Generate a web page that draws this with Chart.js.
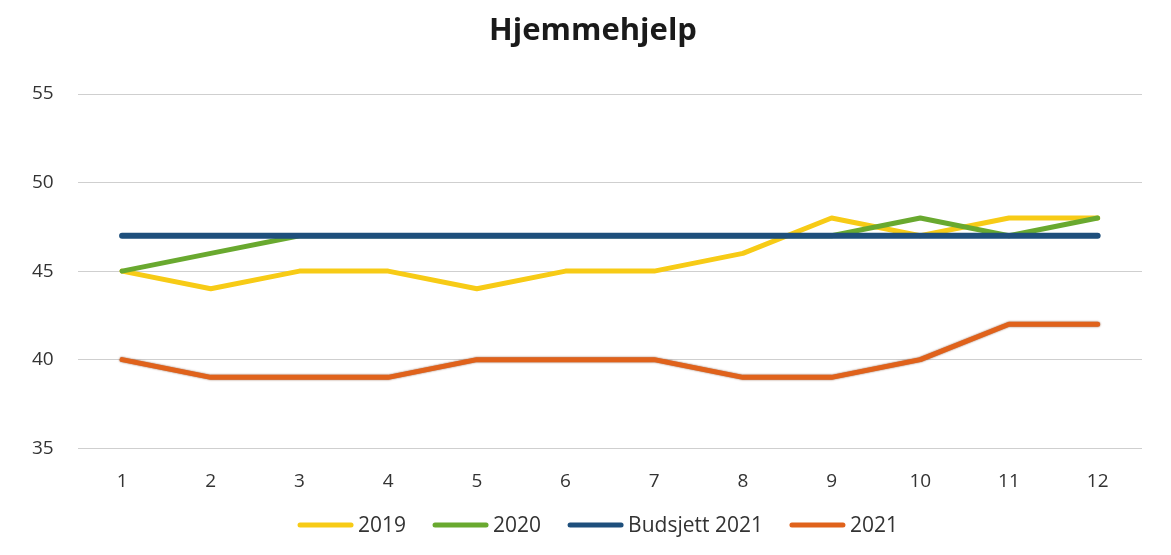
<!DOCTYPE html>
<html>
<head>
<meta charset="utf-8">
<script src="https://cdn.jsdelivr.net/npm/chart.js@4/dist/chart.umd.min.js"></script>
<style>
  html, body { margin: 0; padding: 0; background: #ffffff; }
  #wrap { width: 1171px; height: 555px; }
</style>
</head>
<body>
<div id="wrap"><canvas id="hjelp-chart"></canvas></div>
<script>
// Data lest av fra figuren
const chartTitle = "Hjemmehjelp";
const months = ["1", "2", "3", "4", "5", "6", "7", "8", "9", "10", "11", "12"];
const values2019 = [45, 44, 45, 45, 44, 45, 45, 46, 48, 47, 48, 48];
const values2020 = [45, 46, 47, 47, 47, 47, 47, 47, 47, 48, 47, 48];
const budget2021 = [47, 47, 47, 47, 47, 47, 47, 47, 47, 47, 47, 47];
const values2021 = [40, 39, 39, 39, 40, 40, 40, 39, 39, 40, 42, 42];
const yTicks = [35, 40, 45, 50, 55];

const fontFam = "'Open Sans', 'Liberation Sans', sans-serif";
const ctx = document.getElementById("hjelp-chart").getContext("2d");

function serie(label, data, color, width, order) {
    return {
        label: label,
        data: data,
        borderColor: color,
        backgroundColor: color,
        borderWidth: width,
        pointRadius: 0,
        pointHoverRadius: 0,
        tension: 0,
        borderCapStyle: "round",
        borderJoinStyle: "round",
        fill: false,
        order: order,
    };
}

// tittel og forklaring tegnes selv, for å plassere dem som i originalen
const titleAndLegend = {
    id: "titleAndLegend",
    beforeDatasetDraw(chart, args) {
        if (args.index === 3) {
            chart.ctx.save();
            chart.ctx.shadowColor = "rgba(110, 40, 0, 0.75)";
            chart.ctx.shadowBlur = 2;
        }
    },
    afterDatasetDraw(chart, args) {
        if (args.index === 3) chart.ctx.restore();
    },
    afterDraw(chart) {
        const c = chart.ctx;
        c.save();
        c.fillStyle = "#1a1a1a";
        c.font = "bold 31px " + fontFam;
        c.textAlign = "center";
        c.textBaseline = "middle";
        c.fillText(chartTitle, 593, 31);

        c.font = "21px " + fontFam;
        c.textAlign = "left";
        const lineLen = 55, gap = 5, spacing = 27, y = 525;
        const sets = chart.data.datasets;
        const widths = sets.map((d) => lineLen + gap + c.measureText(d.label).width);
        const total = widths.reduce((a, b) => a + b, 0) + spacing * (sets.length - 1);
        let x = 598 - total / 2;
        sets.forEach((d, i) => {
            c.strokeStyle = d.borderColor;
            c.lineWidth = 5;
            c.lineCap = "round";
            c.beginPath();
            c.moveTo(x + 2, y);
            c.lineTo(x + lineLen - 2, y);
            c.stroke();
            c.fillStyle = "#333333";
            c.fillText(d.label, x + lineLen + gap, y + 1);
            x += widths[i] + spacing;
        });
        c.restore();
    },
};

const chart = new Chart(ctx, {
    type: "line",
    data: {
        labels: months,
        datasets: [
            serie("2019", values2019, "#F7CB16", 5, 4),
            serie("2020", values2020, "#69A92F", 5, 3),
            serie("Budsjett 2021", budget2021, "#1E4F7C", 6, 2),
            serie("2021", values2021, "#E0621B", 5, 1),
        ],
    },
    plugins: [titleAndLegend],
    options: {
        responsive: true,
        maintainAspectRatio: false,
        animation: false,
        layout: { padding: { left: 8, right: 29, top: 94, bottom: 40 } },
        plugins: {
            title: { display: false },
            legend: { display: false },
            tooltip: { enabled: false },
        },
        scales: {
            x: {
                offset: true,
                grid: { display: false, drawTicks: false },
                border: { display: false },
                ticks: {
                    color: "#333333",
                    font: { family: fontFam, size: 19 },
                    padding: 22,
                    maxRotation: 0,
                },
            },
            y: {
                min: 35,
                max: 55,
                afterBuildTicks: (axis) => {
                    axis.ticks = yTicks.map((v) => ({ value: v }));
                },
                grid: { color: "#cfcfcf", lineWidth: 1, drawTicks: false },
                border: { display: false },
                ticks: {
                    color: "#333333",
                    font: { family: fontFam, size: 19 },
                    padding: 24,
                },
            },
        },
    },
});
</script>
</body>
</html>
